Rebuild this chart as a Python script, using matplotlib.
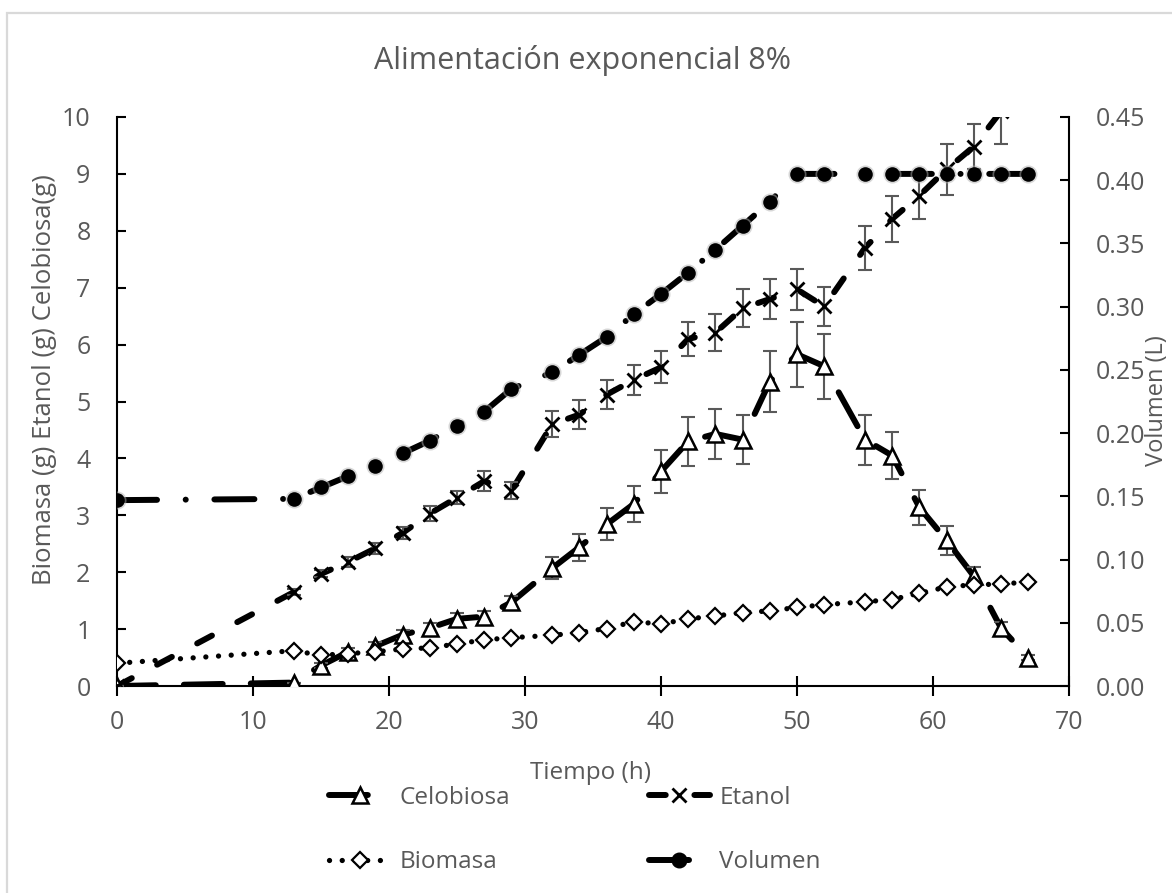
import matplotlib
matplotlib.use("Agg")
import matplotlib.pyplot as plt
from matplotlib.lines import Line2D
from matplotlib.patches import Rectangle

plt.rcParams['font.family'] = ['Open Sans', 'DejaVu Sans']

# ---- data -------------------------------------------------------------
tiempo = [0, 13, 15, 17, 19, 21, 23, 25, 27, 29, 32, 34, 36, 38, 40,
          42, 44, 46, 48, 50, 52, 55, 57, 59, 61, 63, 65, 67]

celobiosa = [0.0, 0.06, 0.36, 0.60, 0.70, 0.90, 1.02, 1.18, 1.22, 1.47,
             2.07, 2.44, 2.84, 3.20, 3.77, 4.30, 4.43, 4.33, 5.35, 5.83,
             5.62, 4.33, 4.05, 3.14, 2.56, 1.93, 1.02, 0.50]
celobiosa_err = [0.0, 0.0, 0.05, 0.06, 0.07, 0.08, 0.08, 0.10, 0.10, 0.12,
                 0.19, 0.24, 0.28, 0.32, 0.38, 0.43, 0.44, 0.43, 0.54, 0.57,
                 0.57, 0.44, 0.41, 0.31, 0.26, 0.17, 0.10, 0.05]

tiempo_etanol = tiempo[:-1]
etanol = [0.0, 1.65, 1.97, 2.18, 2.42, 2.69, 3.03, 3.31, 3.60, 3.43,
          4.60, 4.77, 5.12, 5.38, 5.60, 6.10, 6.21, 6.64, 6.80, 6.97,
          6.67, 7.70, 8.21, 8.62, 9.08, 9.48, 10.10]
etanol_err = [0.0, 0.05, 0.06, 0.08, 0.10, 0.10, 0.13, 0.12, 0.18, 0.15,
              0.23, 0.25, 0.26, 0.27, 0.28, 0.30, 0.32, 0.33, 0.35, 0.36,
              0.34, 0.39, 0.41, 0.41, 0.45, 0.40, 0.58]

biomasa = [0.40, 0.62, 0.54, 0.57, 0.60, 0.65, 0.67, 0.74, 0.81, 0.85,
           0.89, 0.94, 1.01, 1.13, 1.09, 1.18, 1.23, 1.29, 1.32, 1.38,
           1.43, 1.48, 1.52, 1.63, 1.74, 1.78, 1.79, 1.83]

volumen = [0.147, 0.148, 0.157, 0.166, 0.174, 0.184, 0.194, 0.206, 0.217,
           0.235, 0.248, 0.262, 0.276, 0.294, 0.310, 0.327, 0.345, 0.364,
           0.383, 0.405, 0.405, 0.405, 0.405, 0.405, 0.405, 0.405, 0.405,
           0.405]

x_ticks = [0, 10, 20, 30, 40, 50, 60, 70]
y_ticks = list(range(0, 11))
y2_ticks = [0.00, 0.05, 0.10, 0.15, 0.20, 0.25, 0.30, 0.35, 0.40, 0.45]

# ---- styles -----------------------------------------------------------
GREY = '#595959'
LW = 4.3
STY_CEL = (0, (6.5, 4.7))
STY_ETA = (0, (2.8, 4.8))
STY_BIO = (0, (0.01, 2.4))
STY_VOL = (0, (6.7, 4.8, 0.01, 4.8))

W, H = 1172, 893
fig = plt.figure(figsize=(W / 100, H / 100), dpi=100)
ax = fig.add_axes([117 / W, 1 - 686 / H, (1069 - 117) / W, (686 - 117) / H])
ax2 = ax.twinx()

# chart frame
fig.patches.append(Rectangle((7 / W, -0.05), 1.2, 1 - 13 / H + 0.05,
                             transform=fig.transFigure, fill=False,
                             edgecolor='#d9d9d9', linewidth=1.6, zorder=0))


def draw_line(axis, x, y, style, lw=LW, z=2):
    axis.plot(x, y, color='black', lw=lw, linestyle=style,
              dash_capstyle='round', solid_capstyle='round', zorder=z)


# Celobiosa
draw_line(ax, tiempo, celobiosa, STY_CEL)
ax.errorbar(tiempo, celobiosa, yerr=celobiosa_err, fmt='none', ecolor=GREY,
            elinewidth=1.5, capsize=4.7, capthick=1.5, zorder=3)
ax.plot(tiempo, celobiosa, linestyle='none', marker='^', ms=11,
        mfc='white', mec='black', mew=1.8, zorder=4)

# Etanol
draw_line(ax, tiempo_etanol, etanol, STY_ETA)
ax.errorbar(tiempo_etanol, etanol, yerr=etanol_err, fmt='none', ecolor=GREY,
            elinewidth=1.5, capsize=4.7, capthick=1.5, zorder=3)
ax.plot(tiempo_etanol, etanol, linestyle='none', marker='x', ms=10,
        mec='black', mew=2.0, zorder=4)

# Biomasa
draw_line(ax, tiempo, biomasa, STY_BIO, lw=3.8)
ax.plot(tiempo, biomasa, linestyle='none', marker='D', ms=8.5,
        mfc='white', mec='black', mew=1.6, zorder=4)

# Volumen (secondary axis)
draw_line(ax2, tiempo, volumen, STY_VOL)
ax2.plot(tiempo, volumen, linestyle='none', marker='o', ms=13,
         color='#b0b0b0', alpha=0.5, mew=0, zorder=4)
ax2.plot(tiempo, volumen, linestyle='none', marker='o', ms=10.5,
         color='black', mew=0, zorder=5)

# ---- axes -------------------------------------------------------------
ax.set_xlim(0, 70)
ax.set_ylim(0, 10)
ax2.set_ylim(0, 0.45)
ax.set_xticks(x_ticks)
ax.set_yticks(y_ticks)
ax2.set_yticks(y2_ticks)
ax2.set_yticklabels([f'{v:.2f}' for v in y2_ticks])

for a in (ax, ax2):
    for s in a.spines.values():
        s.set_linewidth(1.5)
        s.set_color('black')
    a.spines['top'].set_visible(False)
ax.spines['right'].set_visible(False)
ax2.spines['left'].set_visible(False)
ax2.spines['bottom'].set_visible(False)

ax.tick_params(axis='x', direction='inout', length=14, width=1.5,
               labelsize=18, labelcolor=GREY, pad=10)
ax.tick_params(axis='y', direction='in', length=6.5, width=1.5,
               labelsize=18, labelcolor=GREY, pad=19)
ax2.tick_params(axis='y', direction='in', length=6.5, width=1.5,
                labelsize=18, labelcolor=GREY, pad=19)

fig.text(583 / W, 1 - 60 / H, 'Alimentación exponencial 8%', fontsize=22,
         color=GREY, ha='center', va='center')
fig.text(45 / W, 1 - 380 / H, 'Biomasa (g) Etanol (g) Celobiosa(g)',
         fontsize=18.5, color=GREY, rotation=90, ha='center', va='center')
fig.text(1157 / W, 1 - 401 / H, 'Volumen (L)', fontsize=17, color=GREY,
         rotation=90, ha='center', va='center')
fig.text(591 / W, 1 - 773 / H, 'Tiempo (h)', fontsize=17.5, color=GREY,
         ha='center', va='center')

# ---- legend -----------------------------------------------------------
handles = [
    Line2D([], [], color='black', lw=LW, linestyle=STY_CEL,
           dash_capstyle='round', marker='^', ms=11, mfc='white',
           mec='black', mew=1.8),
    Line2D([], [], color='black', lw=3.8, linestyle=STY_BIO,
           dash_capstyle='round', marker='D', ms=8.5, mfc='white',
           mec='black', mew=1.6),
    Line2D([], [], color='black', lw=LW, linestyle=STY_ETA,
           dash_capstyle='round', marker='x', ms=10, mec='black', mew=2.0),
    Line2D([], [], color='black', lw=LW, linestyle=STY_VOL,
           dash_capstyle='round', marker='o', ms=10.5, mfc='black',
           mec='black'),
]
labels = ['Celobiosa', 'Biomasa', 'Etanol', 'Volumen']
leg = fig.legend(handles, labels, ncol=2, loc='center',
                 bbox_to_anchor=(575 / W, 1 - 830 / H), frameon=False,
                 fontsize=17.5, handlelength=2.5, handletextpad=0.4,
                 columnspacing=5.7, labelspacing=1.66, numpoints=1)
for txt in leg.get_texts():
    txt.set_color(GREY)

fig.savefig('out.png', dpi=100)
